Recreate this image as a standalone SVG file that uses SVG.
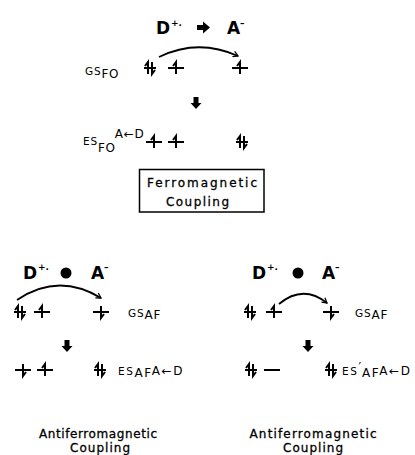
<svg xmlns="http://www.w3.org/2000/svg" width="415" height="455" viewBox="0 0 415 455">
<style>
.o{fill:none;stroke:#000;stroke-width:2;stroke-linecap:butt}
.big{font-family:"DejaVu Sans",sans-serif;font-weight:bold;font-size:17px;fill:#000}
.sup{font-family:"DejaVu Sans",sans-serif;font-weight:bold;font-size:9px;fill:#000}
.lab{font-family:"DejaVu Sans",sans-serif;font-size:12px;fill:#000;stroke:#000;stroke-width:0.3}
.sm{font-family:"DejaVu Sans",sans-serif;font-size:10.5px;letter-spacing:0.8px;fill:#000}
.sub{font-family:"DejaVu Sans",sans-serif;font-size:12px;letter-spacing:0.8px;fill:#000}
.wide{letter-spacing:1.6px}
.arc{fill:none;stroke:#000;stroke-width:1.8}
.box{fill:#fff;stroke:#000;stroke-width:1.5}
</style>
<defs>
<g id="up"><path class="o" d="M-8,0 H8 M0,6 V-6 l-3,4"/></g>
<g id="dn"><path class="o" d="M-8,0 H8 M0,-6 V6 l3,-4"/></g>
<g id="pr"><path class="o" d="M-6,0 H6 M-2,6 V-6 l-3,4 M2,-6 V6 l3,-4"/></g>
<g id="em"><path class="o" d="M-8,0 H8"/></g>
<marker id="ah" viewBox="0 0 10 10" refX="8" refY="5" markerWidth="7" markerHeight="7" orient="auto" markerUnits="userSpaceOnUse">
<path d="M1,1 L8,5 L1,9" fill="none" stroke="#000" stroke-width="1.8"/>
</marker>
<path id="darr" d="M-2.5,0 H2.5 V6 H5.5 L0,12 L-5.5,6 H-2.5 Z" fill="#000"/>
</defs>

<!-- Ferromagnetic (top) -->
<g id="top-title">
<text class="big" x="156" y="34">D</text><text class="sup" x="171" y="26">+.</text>
<path d="M197,25 H203 V21.5 L210,27.5 L203,33.5 V30 H197 Z" fill="#000"/>
<text class="big" x="227" y="34">A</text><text class="sup" x="240" y="26">–</text>
</g>
<g id="gs-fo-label"><text class="sm" x="85" y="75">GS<tspan class="sub" dy="3">FO</tspan></text></g>
<g id="gs-fo-orbitals">
<use href="#pr" x="150" y="68"/>
<use href="#up" x="176" y="68"/>
<use href="#up" x="240" y="68"/>
</g>
<g id="es-fo-label"><text class="sm" x="83" y="145">ES<tspan class="sub" dy="7">FO</tspan><tspan class="sub" dx="-1" dy="-14">A←D</tspan></text></g>
<g id="es-fo-orbitals">
<use href="#up" x="154" y="142"/>
<use href="#up" x="176" y="142"/>
<use href="#pr" x="242" y="142"/>
</g>
<g id="ferro-box">
<rect class="box" x="139.5" y="169.5" width="124.5" height="42.5"/>
<text class="lab" x="202" y="187" text-anchor="middle" textLength="110" lengthAdjust="spacing">Ferromagnetic</text>
<text class="lab" x="197.5" y="206" text-anchor="middle" textLength="63" lengthAdjust="spacing">Coupling</text>
</g>

<!-- Antiferromagnetic left -->
<g id="left-title">
<text class="big" x="23" y="279">D</text><text class="sup" x="38" y="270">+.</text>
<circle cx="66" cy="273" r="5.5" fill="#000"/>
<text class="big" x="91" y="279">A</text><text class="sup" x="104" y="270">–</text>
</g>
<g id="gs-af-left-orbitals">
<use href="#pr" x="20" y="312"/>
<use href="#up" x="42" y="312"/>
<use href="#dn" x="101" y="312"/>
</g>
<g id="gs-af-left-label"><text class="sm" x="128" y="317">GS<tspan class="sub" dy="2">AF</tspan></text></g>
<g id="es-af-left-orbitals">
<use href="#dn" x="23" y="370"/>
<use href="#up" x="45" y="370"/>
<use href="#pr" x="100" y="370"/>
</g>
<g id="es-af-left-label"><text class="sm wide" x="118" y="375">ES<tspan class="sub wide" dy="2">AF</tspan><tspan class="sub wide" dy="-2">A←D</tspan></text></g>
<g id="left-caption">
<text class="lab" x="98" y="438" text-anchor="middle" textLength="118" lengthAdjust="spacing">Antiferromagnetic</text>
<text class="lab" x="100" y="452" text-anchor="middle" textLength="60" lengthAdjust="spacing">Coupling</text>
</g>

<!-- Antiferromagnetic right -->
<g id="right-title">
<text class="big" x="252" y="279">D</text><text class="sup" x="267" y="270">+.</text>
<circle cx="298" cy="273" r="5.5" fill="#000"/>
<text class="big" x="322" y="279">A</text><text class="sup" x="335" y="270">–</text>
</g>
<g id="gs-af-right-orbitals">
<use href="#pr" x="250" y="312"/>
<use href="#up" x="274" y="312"/>
<use href="#dn" x="331" y="312"/>
</g>
<g id="gs-af-right-label"><text class="sm" x="355" y="317">GS<tspan class="sub" dy="2">AF</tspan></text></g>
<g id="es-af-right-orbitals">
<use href="#pr" x="251" y="370"/>
<use href="#em" x="272" y="370"/>
<use href="#pr" x="331" y="370"/>
</g>
<g id="es-af-right-label"><text class="sm wide" x="342" y="375">ES<tspan class="sub" dy="-4">′</tspan><tspan class="sub wide" dy="6">AF</tspan><tspan class="sub wide" dy="-2">A←D</tspan></text></g>
<g id="right-caption">
<text class="lab" x="313" y="438" text-anchor="middle" textLength="127" lengthAdjust="spacing">Antiferromagnetic</text>
<text class="lab" x="313" y="452" text-anchor="middle" textLength="60" lengthAdjust="spacing">Coupling</text>
</g>

<g id="connectors">
<path class="arc" d="M159,57 Q198,38 238,56" marker-end="url(#ah)"/>
<path class="arc" d="M17,300 Q58,272 101,298" marker-end="url(#ah)"/>
<path class="arc" d="M279,304 Q303,284 327,303" marker-end="url(#ah)"/>
<use href="#darr" x="196" y="97"/>
<use href="#darr" x="67" y="340"/>
<use href="#darr" x="308" y="340"/>
</g>
</svg>
